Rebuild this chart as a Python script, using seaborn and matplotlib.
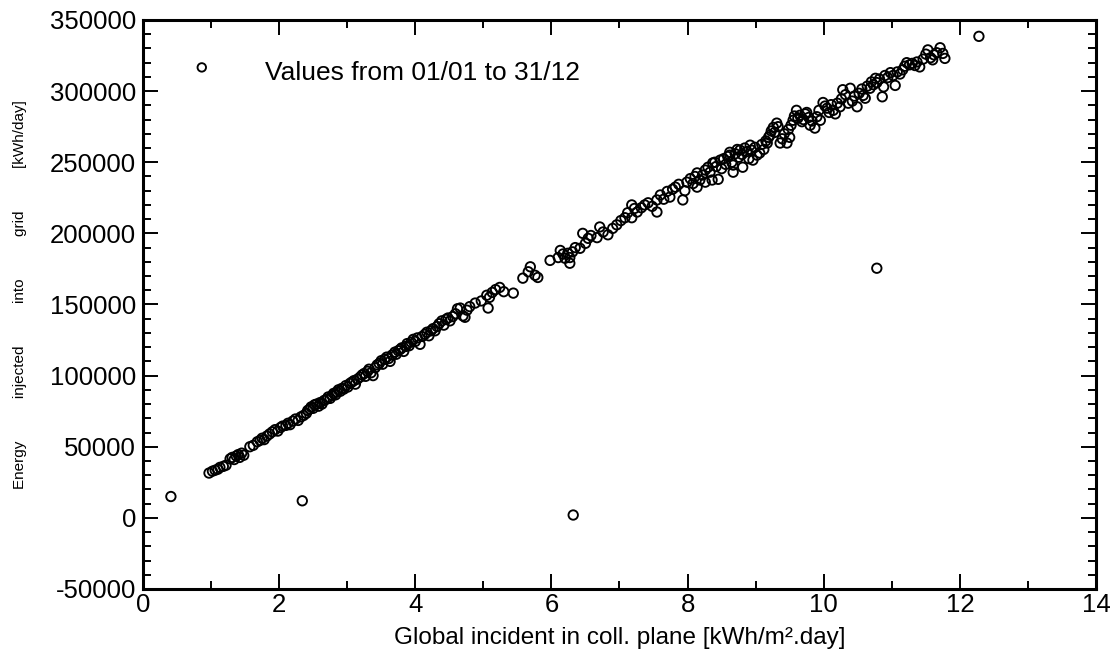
import matplotlib
matplotlib.use("Agg")
import matplotlib.pyplot as plt
import seaborn as sns
import pandas as pd
from matplotlib.ticker import MultipleLocator

# daily values: global incident irradiation [kWh/m².day]
irradiance = [
    0.97, 1.02, 1.06, 1.10, 1.13, 1.18, 1.22, 1.28, 1.31, 1.34, 1.37, 1.40, 1.42, 1.45, 1.48,
    1.57, 1.62, 1.68, 1.72, 1.75, 1.78, 1.82, 1.86, 1.90, 1.94, 1.98, 2.02, 2.05, 2.10, 2.13, 2.16,
    2.20, 2.24, 2.28, 2.32, 2.36, 2.40, 2.42, 2.45, 2.47, 2.50, 2.52, 2.55, 2.58, 2.60, 2.63, 2.66,
    2.70, 2.72, 2.75, 2.78, 2.80, 2.83, 2.85, 2.87, 2.90, 2.92, 2.95, 2.98,
    3.01, 3.04, 3.07, 3.10, 3.12, 3.15, 3.19, 3.22, 3.25, 3.27, 3.30, 3.32, 3.35, 3.38, 3.41, 3.44,
    3.47, 3.50, 3.52, 3.55, 3.58, 3.61, 3.63, 3.66, 3.70, 3.72, 3.75, 3.78, 3.80, 3.83, 3.86, 3.88,
    3.91, 3.94, 3.97, 4.00,
    4.03, 4.07, 4.10, 4.14, 4.17, 4.20, 4.23, 4.26, 4.29, 4.32, 4.35, 4.39, 4.42, 4.45, 4.48, 4.51,
    4.55, 4.59, 4.62, 4.66, 4.70, 4.73, 4.76, 4.80, 4.88, 4.97, 5.05, 5.07, 5.09, 5.13, 5.18, 5.24,
    5.30, 5.44,
    5.58, 5.66, 5.69, 5.76, 5.80, 5.98, 6.10, 6.13, 6.17, 6.20, 6.24, 6.27, 6.27, 6.31, 6.35, 6.42,
    6.46, 6.50, 6.54, 6.58, 6.67, 6.71, 6.76, 6.83, 6.90, 6.96, 7.02, 7.08, 7.12, 7.18, 7.18, 7.22,
    7.26, 7.32, 7.37, 7.42, 7.48, 7.55, 7.55, 7.60, 7.65, 7.70, 7.74, 7.78, 7.82, 7.87, 7.93, 7.96,
    7.99,
    8.04, 8.08, 8.11, 8.14, 8.14, 8.18, 8.22, 8.26, 8.26, 8.30, 8.33, 8.36, 8.37, 8.40, 8.42, 8.45,
    8.48, 8.50, 8.53, 8.56, 8.59, 8.62, 8.62, 8.65, 8.67, 8.67, 8.70, 8.73, 8.75, 8.77, 8.80, 8.81,
    8.84, 8.87, 8.90, 8.92, 8.94, 8.96, 8.99,
    9.02, 9.06, 9.09, 9.12, 9.15, 9.17, 9.19, 9.21, 9.23, 9.26, 9.28, 9.31, 9.33, 9.36, 9.39, 9.42,
    9.46, 9.48, 9.50, 9.52, 9.55, 9.57, 9.60, 9.62, 9.65, 9.68, 9.70, 9.73, 9.75, 9.78, 9.80, 9.83,
    9.87, 9.90, 9.93, 9.95, 9.99, 10.02, 10.05, 10.08, 10.11, 10.14, 10.17, 10.20, 10.24, 10.26,
    10.28, 10.32, 10.36, 10.39, 10.42, 10.45, 10.49, 10.52,
    10.56, 10.58, 10.61, 10.64, 10.68, 10.70, 10.73, 10.76, 10.78, 10.82, 10.86, 10.88, 10.90,
    10.94, 10.98, 11.02, 11.05, 11.08, 11.12, 11.16, 11.19, 11.22, 11.26, 11.30, 11.34, 11.37,
    11.41, 11.46, 11.50, 11.53, 11.57, 11.60, 11.62, 11.66, 11.71, 11.75, 11.78,
    0.41, 2.34, 6.32, 10.78, 12.28,
]

# energy injected into grid [kWh/day], same order
energy = [
    31500, 32800, 33500, 34200, 35500, 36200, 37000, 41500, 42500, 41000, 43500, 44500, 42500, 45500, 44000,
    50000, 51000, 53500, 54500, 56000, 55000, 57500, 59000, 60500, 62000, 61000, 63500, 64500, 65000, 66500, 65500,
    68000, 69500, 68500, 71000, 72000, 73500, 75500, 76500, 78000, 77000, 79500, 80000, 78500, 81000, 80000, 82500,
    83500, 85000, 84000, 86000, 87500, 86500, 88500, 90000, 89000, 91000, 90500, 93000,
    92000, 94500, 95500, 96500, 94000, 97500, 99000, 100500, 101500, 99500, 103000, 104500, 102000, 100000, 105500, 107500,
    108500, 110500, 108000, 111500, 113000, 112000, 110000, 114500, 116500, 115000, 117500, 118500, 119500, 117000, 120500, 122500,
    121000, 123500, 125500, 124000,
    126500, 122000, 127500, 129000, 130500, 128000, 131500, 133000, 131500, 134500, 136500, 138500, 135500, 139500, 140500, 138500,
    141500, 143500, 147000, 147500, 142000, 141000, 146000, 148500, 151000, 152500, 156500, 147500, 155000, 158500, 160500, 162000,
    159000, 158000,
    168500, 173000, 176500, 170500, 169000, 181000, 183000, 188000, 185500, 182500, 186000, 183000, 179000, 187000, 190000, 189500,
    200000, 193000, 196500, 198500, 197000, 204500, 201000, 199000, 203500, 206000, 209000, 211000, 214500, 220000, 211000, 217500,
    215000, 218000, 220000, 221500, 219000, 215000, 223500, 227000, 224000, 229500, 225500, 231000, 232500, 234500, 223500, 230000,
    236000,
    238500, 235000, 240000, 242500, 232500, 237500, 241000, 236000, 244500, 246500, 243000, 237500, 249500, 250000, 247000, 238000,
    251500, 245500, 252500, 248500, 254000, 257000, 255000, 250000, 243000, 248000, 256000, 259000, 253500, 258500, 255500, 246500,
    260000, 257500, 252500, 262000, 258500, 251500, 260500,
    255000, 256500, 262500, 259000, 265000, 263500, 267500, 269000, 272000, 274500, 271000, 277500, 275000, 263500, 266500, 270000,
    263500, 273000, 267500, 276000, 279500, 282500, 286500, 281000, 283000, 278500, 280000, 284000, 285000, 281500, 276000, 279000,
    274000, 282000, 286500, 279500, 292000, 289500, 288000, 285000, 290500, 286500, 284000, 291500, 289000, 294500,
    301000, 297500, 291500, 302000, 293000, 296500, 289000, 298500,
    301500, 297000, 295000, 303500, 302000, 306500, 304500, 309000, 306000, 308500, 296000, 303000, 311000,
    309500, 313000, 311000, 304000, 313500, 312000, 315000, 317500, 320000, 318500, 319500, 318000, 320500,
    317000, 322500, 326000, 329000, 323500, 322000, 325500, 327000, 330500, 326500, 323000,
    15000, 12000, 2000, 175500, 338500,
]

legend_text = "Values from 01/01 to 31/12"
x_label = "Global incident in coll. plane [kWh/m².day]"
y_label = "Energy          injected          into          grid          [kWh/day]"

df = pd.DataFrame({"irr": irradiance, "energy": energy})

sns.set_style("ticks")
plt.rcParams["font.family"] = ["Liberation Sans", "DejaVu Sans"]
plt.rcParams["axes.unicode_minus"] = False
plt.rcParams["text.color"] = "black"
plt.rcParams["axes.labelcolor"] = "black"

fig = plt.figure(figsize=(11.11, 6.6), dpi=100)
ax = fig.add_axes([0.1287, 0.1076, 0.8578, 0.8621])

sns.scatterplot(data=df, x="irr", y="energy", ax=ax, marker="o", s=46,
                facecolor="none", edgecolor="black", linewidth=1.35,
                label=legend_text)

ax.set_xlim(0, 14)
ax.set_ylim(-50000, 350000)
ax.xaxis.set_major_locator(MultipleLocator(2))
ax.xaxis.set_minor_locator(MultipleLocator(1))
ax.yaxis.set_major_locator(MultipleLocator(50000))
ax.yaxis.set_minor_locator(MultipleLocator(10000))

ax.tick_params(which="both", direction="in", top=True, right=True,
               width=1.4, colors="black", labelsize=18.5)
ax.tick_params(which="major", length=10.5, pad=5)
ax.tick_params(axis="x", which="major", pad=3)
ax.tick_params(which="minor", length=5.5)
for sp in ax.spines.values():
    sp.set_linewidth(2.2)
    sp.set_color("black")

ax.set_xlabel(x_label, fontsize=17.5, labelpad=7, color="black")
ax.set_ylabel(y_label, fontsize=11, color="black")
ax.yaxis.set_label_coords(-0.122, 0.517)

ax.legend(loc="upper left", bbox_to_anchor=(0.034, 0.928), frameon=False,
          fontsize=19, handletextpad=1.39, borderpad=0, borderaxespad=0,
          handlelength=2.0, markerscale=0.9, scatteryoffsets=[0.68],
          labelcolor="black")

fig.savefig("out.png", dpi=100)
